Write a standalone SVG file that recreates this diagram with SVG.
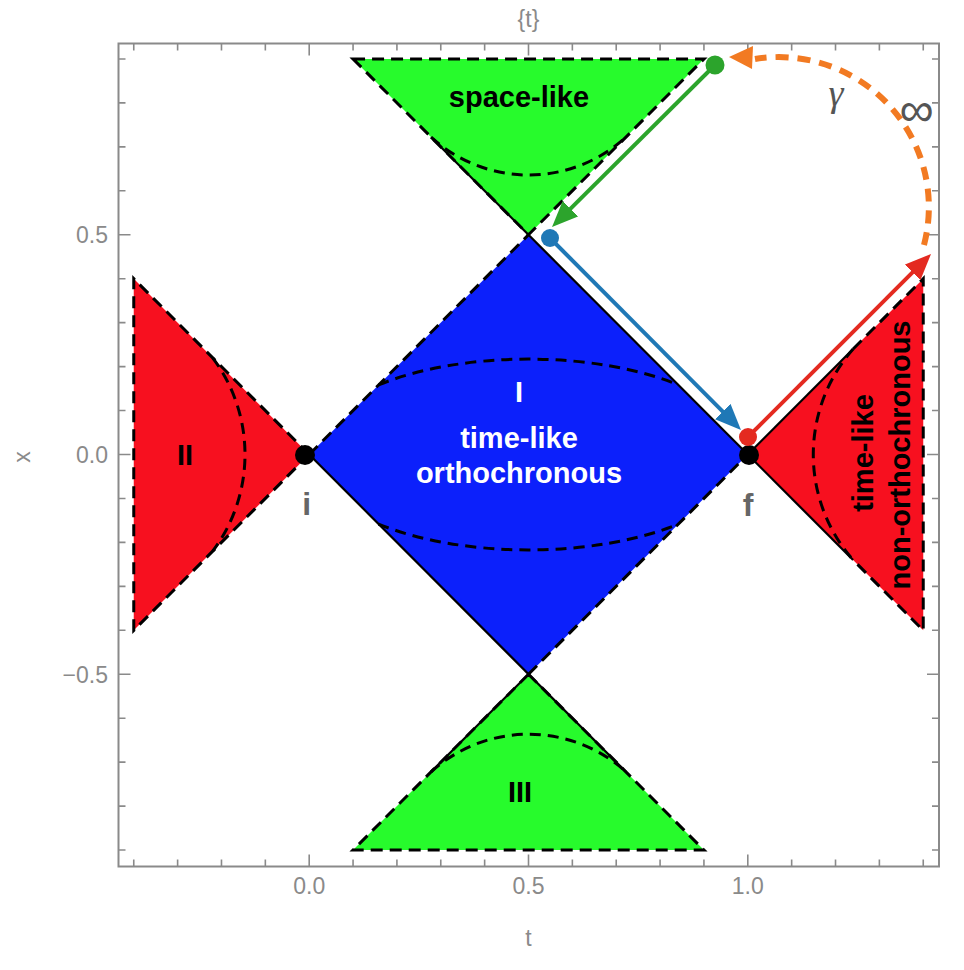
<svg xmlns="http://www.w3.org/2000/svg" width="964" height="970" viewBox="0 0 964 970">
<style>
.frame{fill:none;stroke:#8a8a8a;stroke-width:2}
.tick{fill:none;stroke:#8a8a8a;stroke-width:1.6}
.lab{font-family:"Liberation Sans",Arial,sans-serif;font-size:23px;fill:#8a8a8a}
.dash{fill:none;stroke:#000;stroke-width:3;stroke-dasharray:12 7}
.solid{fill:none;stroke:#000;stroke-width:2.2}
.curve{fill:none;stroke:#000;stroke-width:3;stroke-dasharray:11 7}
.rl{font-family:"Liberation Sans",Arial,sans-serif;font-weight:bold;font-size:29px;text-anchor:middle}
.ann{font-family:"Liberation Sans",Arial,sans-serif;font-weight:bold;font-size:32px;fill:#666;text-anchor:middle}
.green{fill:#27fb2c}
.red{fill:#f7101f}
.blue{fill:#0c20fb}
</style>
<defs>
<marker id="hg" markerUnits="userSpaceOnUse" viewBox="0 0 26 22" refX="8" refY="11" markerWidth="26" markerHeight="22" orient="auto"><path d="M0,0 L26,11 L0,22 Z" fill="#2ca42c"/></marker>
<marker id="hb" markerUnits="userSpaceOnUse" viewBox="0 0 26 22" refX="8" refY="11" markerWidth="26" markerHeight="22" orient="auto"><path d="M0,0 L26,11 L0,22 Z" fill="#1f78b6"/></marker>
<marker id="hr" markerUnits="userSpaceOnUse" viewBox="0 0 26 22" refX="8" refY="11" markerWidth="26" markerHeight="22" orient="auto"><path d="M0,0 L26,11 L0,22 Z" fill="#e42a20"/></marker>
</defs>

<g id="frame">
<rect class="frame" x="118.5" y="43.5" width="820.5" height="823"/>
<path class="tick" d="M133.76,866.5v-7M177.62,866.5v-7M221.48,866.5v-7M265.34,866.5v-7M309.2,866.5v-12M353.06,866.5v-7M396.92,866.5v-7M440.78,866.5v-7M484.64,866.5v-7M528.5,866.5v-12M572.36,866.5v-7M616.22,866.5v-7M660.08,866.5v-7M703.94,866.5v-7M747.8,866.5v-12M791.66,866.5v-7M835.52,866.5v-7M879.38,866.5v-7M923.24,866.5v-7"/>
<path class="tick" d="M133.76,43.5v7M177.62,43.5v7M221.48,43.5v7M265.34,43.5v7M309.2,43.5v12M353.06,43.5v7M396.92,43.5v7M440.78,43.5v7M484.64,43.5v7M528.5,43.5v12M572.36,43.5v7M616.22,43.5v7M660.08,43.5v7M703.94,43.5v7M747.8,43.5v12M791.66,43.5v7M835.52,43.5v7M879.38,43.5v7M923.24,43.5v7"/>
<path class="tick" d="M118.5,58.95h7M118.5,102.9h7M118.5,146.85h7M118.5,190.8h7M118.5,234.75h12M118.5,278.7h7M118.5,322.65h7M118.5,366.6h7M118.5,410.55h7M118.5,454.5h12M118.5,498.45h7M118.5,542.4h7M118.5,586.35h7M118.5,630.3h7M118.5,674.25h12M118.5,718.2h7M118.5,762.15h7M118.5,806.1h7M118.5,850.05h7"/>
<path class="tick" d="M939,58.95h-7M939,102.9h-7M939,146.85h-7M939,190.8h-7M939,234.75h-12M939,278.7h-7M939,322.65h-7M939,366.6h-7M939,410.55h-7M939,454.5h-12M939,498.45h-7M939,542.4h-7M939,586.35h-7M939,630.3h-7M939,674.25h-12M939,718.2h-7M939,762.15h-7M939,806.1h-7M939,850.05h-7"/>
<text class="lab" x="309.2" y="894" text-anchor="middle">0.0</text>
<text class="lab" x="528.5" y="894" text-anchor="middle">0.5</text>
<text class="lab" x="747.8" y="894" text-anchor="middle">1.0</text>
<text class="lab" x="528.5" y="946" text-anchor="middle">t</text>
<text class="lab" x="108" y="243" text-anchor="end">0.5</text>
<text class="lab" x="108" y="463" text-anchor="end">0.0</text>
<text class="lab" x="108" y="683" text-anchor="end">−0.5</text>
<text class="lab" x="30" y="457" text-anchor="middle" transform="rotate(-90 30 457)">x</text>
<text class="lab" x="528.5" y="27" text-anchor="middle">{t}</text>
</g>

<g id="region-space-top">
<path class="green" d="M353.06,58.95 L703.94,58.95 L528.5,234.75 Z"/>
<path class="curve" d="M431.1,137.2 A144.4,144.4 0 0 0 625.9,137.2"/>
<path class="dash" d="M353.06,58.95 L703.94,58.95 L528.5,234.75 Z"/>
<text class="rl" x="519" y="107">space-like</text>
</g>

<g id="region-I">
<path class="blue" d="M309.2,454.5 L528.5,234.75 L747.8,454.5 L528.5,674.25 Z"/>
<path class="curve" d="M378.5,384.9 A219.3,95.4 0 0 1 678.5,384.9"/>
<path class="curve" d="M378.5,524.1 A219.3,95.4 0 0 0 678.5,524.1"/>
<path class="dash" d="M309.2,454.5 L528.5,234.75 M528.5,674.25 L747.8,454.5"/>
<text class="rl" x="519" y="401.7" fill="#fff">I</text>
<text class="rl" x="519" y="448.3" fill="#fff">time-like</text>
<text class="rl" x="519" y="483" fill="#fff">orthochronous</text>
</g>

<g id="region-space-bottom">
<path class="green" d="M353.06,850.05 L703.94,850.05 L528.5,674.25 Z"/>
<path class="curve" d="M431.1,771.8 A145,145 0 0 1 625.9,771.8"/>
<path class="dash" d="M528.5,674.25 L353.06,850.05 L703.94,850.05 L528.5,674.25"/>
<text class="rl" x="520" y="802">III</text>
</g>

<g id="region-II">
<path class="red" d="M133.76,278.7 L309.2,454.5 L133.76,630.3 Z"/>
<path class="curve" d="M212.7,357.8 A160.9,160.9 0 0 1 212.7,551.2"/>
<path class="dash" d="M309.2,454.5 L133.76,278.7 L133.76,630.3 Z"/>
<text class="rl" x="185" y="465">II</text>
</g>

<g id="region-nonortho">
<path class="red" d="M923.24,278.7 L747.8,454.5 L923.24,630.3 Z"/>
<path class="curve" d="M853.1,349 A159.7,159.7 0 0 0 853.1,560"/>
<path class="dash" d="M853.1,349 L923.24,278.7 L923.24,630.3 L853.1,560"/>
<text class="rl" x="873" y="453" transform="rotate(-90 873 453)">time-like</text>
<text class="rl" x="910" y="455" transform="rotate(-90 910 455)">non-orthochronous</text>
</g>

<g id="light-cones">
<path class="solid" d="M431.1,137.2 L853.1,560"/>
<path class="solid" d="M309.2,454.5 L625.9,771.8"/>
<path class="solid" d="M431.1,771.8 L528.5,674.25"/>
<path class="solid" d="M747.8,454.5 L853.1,349"/>
</g>

<g id="connectors">
<path d="M715,65 L564.8,214.3" stroke="#2ca42c" stroke-width="4" fill="none" marker-end="url(#hg)"/>
<path d="M550,238 L728.3,417.2" stroke="#1f78b6" stroke-width="4" fill="none" marker-end="url(#hb)"/>
<path d="M748,437 L918.3,266.7" stroke="#e42a20" stroke-width="4" fill="none" marker-end="url(#hr)"/>
<path d="M924,245 A150,150 0 0 0 755,59" stroke="#f27a22" stroke-width="6" fill="none" stroke-dasharray="13 9"/>
<polygon points="729,57 753,46 752,69" fill="#f27a22"/>
</g>

<g id="point-i">
<circle cx="305" cy="455" r="10" fill="#000"/>
<text class="ann" x="306.7" y="515">i</text>
</g>
<g id="point-f">
<circle cx="749" cy="455" r="10" fill="#000"/>
<text class="ann" x="748" y="516">f</text>
</g>
<g id="point-green"><circle cx="715" cy="65" r="9.5" fill="#2ca42c"/></g>
<g id="point-blue"><circle cx="550" cy="238" r="9" fill="#1f78b6"/></g>
<g id="point-red"><circle cx="748" cy="437" r="9" fill="#e42a20"/></g>
<g id="labels-gamma">
<text x="836" y="106" font-family="Liberation Serif,serif" font-style="italic" font-size="38" fill="#555" text-anchor="middle">γ</text>
<text x="916.5" y="126" font-family="Liberation Sans,sans-serif" font-size="48" fill="#555" text-anchor="middle">∞</text>
</g>
</svg>
